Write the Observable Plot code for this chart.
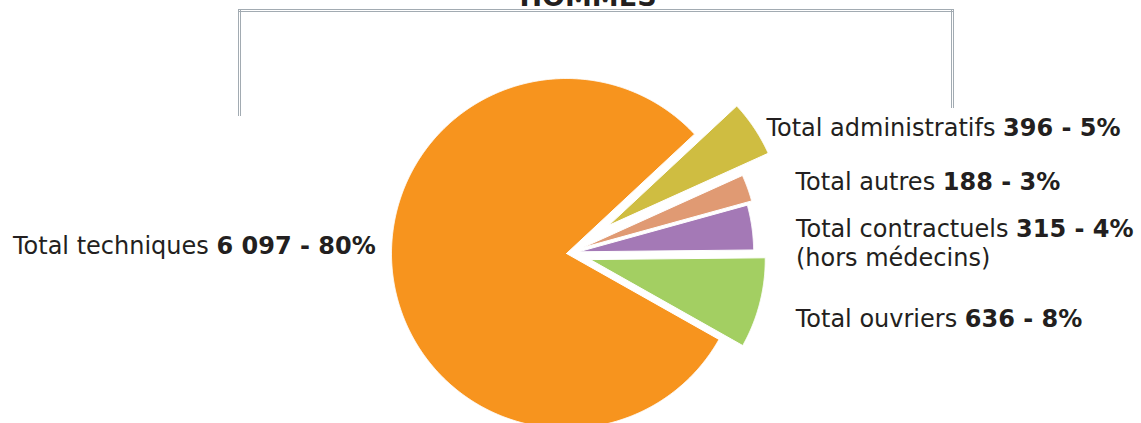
<!DOCTYPE html>
<html><head><meta charset="utf-8">
<script src="https://cdn.jsdelivr.net/npm/d3@7"></script>
<script src="https://cdn.jsdelivr.net/npm/@observablehq/plot@0.6"></script>
<style>
body{margin:0;background:#fff;}
#wrap{position:relative;width:1141px;height:423px;overflow:hidden;background:#fff;}
.fr{position:absolute;border-color:#a2abb2;}
</style></head><body><div id="wrap"></div>
<script>
// ---- data ----
const title = "HOMMES";
const categories = ["Total administratifs", "Total autres", "Total contractuels", "Total ouvriers", "Total techniques"];
const counts = [396, 188, 315, 636, 6097];
const countLabels = ["396", "188", "315", "636", "6 097"];
const percentLabels = ["5%", "3%", "4%", "8%", "80%"];
const subLabels = ["", "", "(hors médecins)", "", ""];
const colors = ["#CFBD41", "#E09A73", "#A479B6", "#A3CF62", "#F7941E"];

// ---- layout (style, not data) ----
const W = 1141, H = 423;
const R = 175;              // pie radius in px
const CX = 566, CY = 253;   // pie centre in px
const START = 47 * Math.PI / 180;
const explode = [0.29, 0.10, 0.07, 0.14, 0];
const nudge = [[12, 0], [48, -6], [44, 2], [36, 16], [-17, -28]]; // label offsets px
const FONT = "'DejaVu Sans'";
const FS = 24;

const pie = d3.pie().sort(null).value(d => d).startAngle(START).endAngle(START + 2 * Math.PI)(counts);

const pts = [];
const labels = [];
pie.forEach((p, i) => {
  const mid = (p.startAngle + p.endAngle) / 2;
  const ox = explode[i] * Math.sin(mid), oy = explode[i] * Math.cos(mid);
  const key = categories[i];
  pts.push({key, x: ox, y: oy});
  const n = Math.max(8, Math.ceil((p.endAngle - p.startAngle) / (0.25 * Math.PI / 180)));
  for (let k = 0; k <= n; k++) {
    const a = p.startAngle + (p.endAngle - p.startAngle) * k / n;
    pts.push({key, x: ox + Math.sin(a), y: oy + Math.cos(a)});
  }
  pts.push({key, x: ox, y: oy});
  const lx = ox + Math.sin(mid) + nudge[i][0] / R;
  const ly = oy + Math.cos(mid) - nudge[i][1] / R;
  labels.push({i, x: lx, y: ly, left: Math.sin(mid) < 0});
});

const ctx = document.createElement("canvas").getContext("2d");
function tw(s, bold) { ctx.font = `${bold ? "bold " : ""}${FS}px ${FONT}`; return ctx.measureText(s).width; }

const nameRows = labels.map(l => {
  const bold = `${countLabels[l.i]} - ${percentLabels[l.i]}`;
  const name = categories[l.i];
  if (l.left) {
    return {x: l.x - (tw(bold, true) + tw(" ", false)) / R, y: l.y, text: name, anchor: "end"};
  }
  return {x: l.x, y: l.y, text: name, anchor: "start"};
});
const boldRows = labels.map(l => {
  const bold = `${countLabels[l.i]} - ${percentLabels[l.i]}`;
  if (l.left) return {x: l.x, y: l.y, text: bold, anchor: "end"};
  return {x: l.x + (tw(categories[l.i] + " ", false)) / R, y: l.y, text: bold, anchor: "start"};
});
const subRows = labels.filter(l => subLabels[l.i]).map(l => ({x: l.x, y: l.y - 29 / R, text: subLabels[l.i]}));

const chart = Plot.plot({
  width: W, height: H,
  marginTop: 0, marginBottom: 0, marginLeft: 0, marginRight: 0,
  x: {domain: [-CX / R, (W - CX) / R], axis: null},
  y: {domain: [-(H - CY) / R, CY / R], axis: null},
  color: {domain: categories, range: colors},
  style: {fontFamily: FONT, background: "transparent"},
  marks: [
    Plot.line(pts, {x: "x", y: "y", z: "key", fill: "key", stroke: "white", strokeWidth: 1, strokeLinejoin: "round", curve: "linear"}),
    Plot.text(nameRows.filter(d => d.anchor === "start"), {x: "x", y: "y", text: "text", textAnchor: "start", fontSize: FS, fill: "#231f20"}),
    Plot.text(nameRows.filter(d => d.anchor === "end"), {x: "x", y: "y", text: "text", textAnchor: "end", fontSize: FS, fill: "#231f20"}),
    Plot.text(boldRows.filter(d => d.anchor === "start"), {x: "x", y: "y", text: "text", textAnchor: "start", fontSize: FS, fontWeight: "bold", fill: "#231f20"}),
    Plot.text(boldRows.filter(d => d.anchor === "end"), {x: "x", y: "y", text: "text", textAnchor: "end", fontSize: FS, fontWeight: "bold", fill: "#231f20"}),
    Plot.text(subRows, {x: "x", y: "y", text: "text", textAnchor: "start", fontSize: FS, fill: "#231f20"}),
    Plot.text([title], {frameAnchor: "top", lineAnchor: "middle", dx: 17, dy: -3, text: d => d, fontSize: 27, fontWeight: "bold", fill: "#231f20"})
  ]
});
const wrap = document.getElementById("wrap");
wrap.appendChild(chart);
function fr(css) { const d = document.createElement("div"); d.className = "fr"; d.style.cssText = css; wrap.appendChild(d); }
fr("left:238px;top:9px;width:716px;height:0;border-top:3px double #a2abb2;");
fr("left:238px;top:9px;width:0;height:107px;border-left:3px double #a2abb2;");
fr("left:951px;top:9px;width:0;height:99px;border-left:3px double #a2abb2;");
</script></body></html>
